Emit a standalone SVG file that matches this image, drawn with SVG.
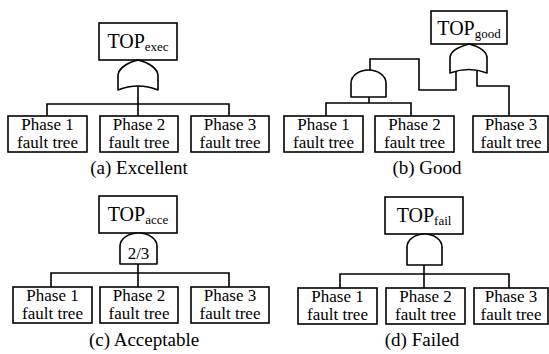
<svg xmlns="http://www.w3.org/2000/svg" width="549" height="354" viewBox="0 0 549 354">
<style>
.b{fill:#fff;stroke:#000;stroke-width:1.6}
.g{fill:#fff;stroke:#000;stroke-width:1.6;stroke-linejoin:round}
.c{fill:none;stroke:#000;stroke-width:1.6}
text{font-family:'Liberation Serif','Times New Roman',serif;fill:#000;text-anchor:middle}
.p{font-size:17px}
.t{font-size:20px}
.s{font-size:13px}
.cap{font-size:19px}
</style>
<rect width="549" height="354" fill="#fff"/>
<g id="connectors">
<path class="c" d="M138,86 V116 M47,116 V104 H229 V116"/>
<path class="c" d="M369,97 V103 M326,116 V103 H411 V116"/>
<path class="c" d="M370,71 V59 H419 V90 H456 V70"/>
<path class="c" d="M477,70 V86 H509 V116"/>
<path class="c" d="M138,264 V287 M51,287 V273 H229 V287"/>
<path class="c" d="M424,265 V288 M340,288 V274 H509 V288"/>
</g>
<g id="a">
<g id="a-top"><rect class="b" x="99" y="23" width="78" height="37"/><text class="t" x="138" y="48">TOP<tspan class="s" dy="3">exec</tspan></text></g>
<g id="a-or"><path class="g" d="M138,60 C150,63 158,69 158,76 L158,90 Q138,82 118,90 L118,76 C118,69 126,63 138,60 Z"/></g>
<g id="a-p1"><rect class="b" x="8" y="116" width="79" height="36"/><text class="p" x="47.5" y="130">Phase 1</text><text class="p" x="47.5" y="148">fault tree</text></g>
<g id="a-p2"><rect class="b" x="100" y="116" width="78" height="36"/><text class="p" x="139" y="130">Phase 2</text><text class="p" x="139" y="148">fault tree</text></g>
<g id="a-p3"><rect class="b" x="191" y="116" width="78" height="36"/><text class="p" x="230" y="130">Phase 3</text><text class="p" x="230" y="148">fault tree</text></g>
<text class="cap" x="139" y="174">(a) Excellent</text>
</g>
<g id="b">
<g id="b-top"><rect class="b" x="431" y="11" width="76" height="33"/><text class="t" x="469" y="35">TOP<tspan class="s" dy="3">good</tspan></text></g>
<g id="b-or"><path class="g" d="M469,44 C480,47 487,52 487,58 L487,73 Q469,66 450,73 L450,58 C450,52 458,47 469,44 Z"/></g>
<g id="b-and"><path class="g" d="M351,97 V83 A17.5,13 0 0 1 386,83 V97 Z"/></g>
<g id="b-p1"><rect class="b" x="284" y="116" width="79" height="36"/><text class="p" x="323.5" y="130">Phase 1</text><text class="p" x="323.5" y="148">fault tree</text></g>
<g id="b-p2"><rect class="b" x="375" y="116" width="79" height="36"/><text class="p" x="414.5" y="130">Phase 2</text><text class="p" x="414.5" y="148">fault tree</text></g>
<g id="b-p3"><rect class="b" x="473" y="116" width="75" height="36"/><text class="p" x="511" y="130">Phase 3</text><text class="p" x="511" y="148">fault tree</text></g>
<text class="cap" x="427" y="174">(b) Good</text>
</g>
<g id="c">
<g id="c-top"><rect class="b" x="99" y="196" width="78" height="37"/><text class="t" x="138" y="221">TOP<tspan class="s" dy="3">acce</tspan></text></g>
<g id="c-vote"><path class="g" d="M120,264 V246 A18.5,13 0 0 1 157,246 V264 Z"/><text class="p" x="138.5" y="259">2/3</text></g>
<g id="c-p1"><rect class="b" x="13" y="287" width="79" height="36"/><text class="p" x="52.5" y="301">Phase 1</text><text class="p" x="52.5" y="319">fault tree</text></g>
<g id="c-p2"><rect class="b" x="100" y="287" width="78" height="36"/><text class="p" x="139" y="301">Phase 2</text><text class="p" x="139" y="319">fault tree</text></g>
<g id="c-p3"><rect class="b" x="191" y="287" width="78" height="36"/><text class="p" x="230" y="301">Phase 3</text><text class="p" x="230" y="319">fault tree</text></g>
<text class="cap" x="144" y="346">(c) Acceptable</text>
</g>
<g id="d">
<g id="d-top"><rect class="b" x="385" y="197" width="78" height="37"/><text class="t" x="424" y="222">TOP<tspan class="s" dy="3">fail</tspan></text></g>
<g id="d-and"><path class="g" d="M407,265 V247 A17.5,13 0 0 1 442,247 V265 Z"/></g>
<g id="d-p1"><rect class="b" x="298" y="288" width="79" height="36"/><text class="p" x="337.5" y="302">Phase 1</text><text class="p" x="337.5" y="320">fault tree</text></g>
<g id="d-p2"><rect class="b" x="386" y="288" width="79" height="36"/><text class="p" x="425.5" y="302">Phase 2</text><text class="p" x="425.5" y="320">fault tree</text></g>
<g id="d-p3"><rect class="b" x="474" y="288" width="74" height="36"/><text class="p" x="511" y="302">Phase 3</text><text class="p" x="511" y="320">fault tree</text></g>
<text class="cap" x="422" y="346">(d) Failed</text>
</g>
</svg>
